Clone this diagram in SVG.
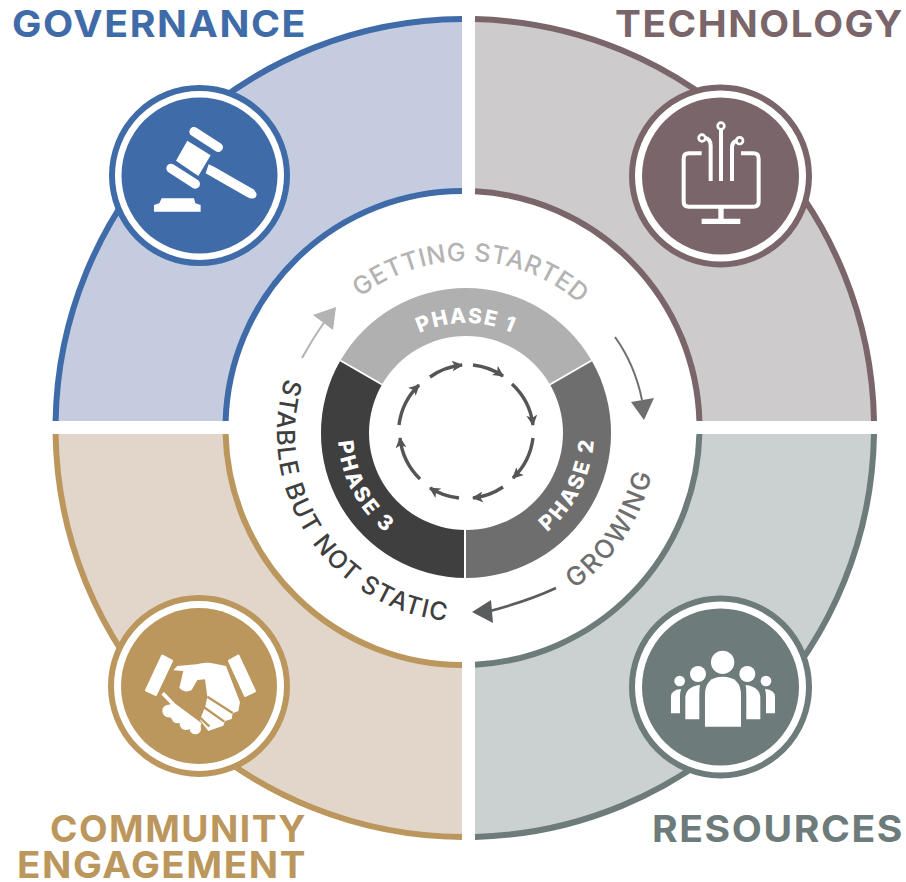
<svg xmlns="http://www.w3.org/2000/svg" width="906" height="882" viewBox="0 0 906 882">
<style>
.lbl{font-family:"Inter","DejaVu Sans",sans-serif;font-weight:700;font-size:37px;letter-spacing:1.5px}
.curv{font-family:"Inter","DejaVu Sans",sans-serif;font-size:25px;font-weight:500;text-anchor:middle}
.ph{font-family:"Inter","DejaVu Sans",sans-serif;font-size:21px;font-weight:800;fill:#fff;text-anchor:middle;letter-spacing:1.5px}
.ph2{letter-spacing:2.6px}
.arc{fill:none;stroke-width:6}
.wl{fill:none;stroke:#fff;stroke-width:2}
.small{fill:none;stroke:#555;stroke-width:3.4;marker-end:url(#mh)}
</style>
<defs>
<marker id="mh" markerUnits="userSpaceOnUse" markerWidth="11" markerHeight="11" viewBox="0 0 10 10" refX="9" refY="5" orient="auto"><path d="M0 0L10 5L0 10L2.5 5Z" fill="#555"/></marker>
<path id="pGS" d="M341.5 314.4A172 172 0 0 1 597.8 322.4"/>
<path id="pGR" d="M548 604A190 190 0 0 0 656 442"/>
<path id="pST" d="M293.3 356.1A189 189 0 0 0 470.9 621.9"/>
<path id="p1" d="M388.2 355.2A110 110 0 0 1 543.8 355.2"/>
<path id="p2" d="M527.1 545.5A128 128 0 0 0 592.6 414.1"/>
<path id="p3" d="M339 417.4A128 128 0 0 0 407.9 547"/>
</defs>
<g id="governance">
<path d="M462 19A409 409 0 0 0 55.6 421H225.6A237 237 0 0 1 462 191Z" fill="#c5ccdf"/>
<path class="arc" stroke="#3f6ca9" d="M462 19A409 409 0 0 0 55.6 421M225.6 421A237 237 0 0 1 462 191"/>
<circle cx="199.5" cy="175.5" r="87.5" fill="#fff" stroke="#3f6ca9" stroke-width="6"/>
<circle cx="199.5" cy="175.5" r="78" fill="#3f6ca9"/>
<g transform="translate(90 70) scale(.3333)" fill="#fff">
<path d="M312 185L385 232" stroke="#fff" stroke-width="28" stroke-linecap="round"/>
<path d="M243 295L316 342" stroke="#fff" stroke-width="28" stroke-linecap="round"/>
<path d="M292 212L362 256L325 318L258 272Z"/>
<path d="M356 283L372 290L490 358Q505 372 497 382Q488 390 470 380L347 310Z"/>
<path d="M215 385H312L316 400L332 405V425H192V405L208 400Z"/>
</g>
<text class="lbl" x="12" y="37" fill="#3f6ca9" textLength="295" lengthAdjust="spacingAndGlyphs">GOVERNANCE</text>
</g>
<g id="technology">
<path d="M475 19.1A409 409 0 0 1 874 421H699.4A237 237 0 0 0 475 191.3Z" fill="#cdcbcc"/>
<path class="arc" stroke="#7a666a" d="M475 19.1A409 409 0 0 1 874 421M699.4 421A237 237 0 0 0 475 191.3"/>
<circle cx="720.5" cy="176" r="88.5" fill="#fff" stroke="#7a666a" stroke-width="6"/>
<circle cx="720.5" cy="176" r="78.5" fill="#7a666a"/>
<g transform="translate(615 70) scale(.3333)" fill="none" stroke="#fff" stroke-width="12">
<path d="M260 250H222Q206 250 206 266V395Q206 410 222 410H415Q431 410 431 395V266Q431 250 415 250H378"/>
<path d="M318 410V450M260 454H376" stroke-width="16"/>
<path d="M318 333V180M287 333V228Q287 206 270 204M351 333V235Q351 216 364 213"/>
<circle cx="318" cy="168" r="10" stroke-width="8"/>
<circle cx="261" cy="204" r="10" stroke-width="8"/>
<circle cx="374" cy="212" r="10" stroke-width="8"/>
</g>
<text class="lbl" x="615" y="37" fill="#7a666a" textLength="289" lengthAdjust="spacingAndGlyphs">TECHNOLOGY</text>
</g>
<g id="resources">
<path d="M475 836.9A409 409 0 0 0 874 434H699.4A237 237 0 0 1 475 664.7Z" fill="#cbd0d0"/>
<path class="arc" stroke="#6e7b7b" d="M475 836.9A409 409 0 0 0 874 434M699.4 434A237 237 0 0 1 475 664.7"/>
<circle cx="720.5" cy="687" r="88.5" fill="#fff" stroke="#6e7b7b" stroke-width="6"/>
<circle cx="720.5" cy="687" r="78.5" fill="#6e7b7b"/>
<g transform="translate(615 585) scale(.3333)" fill="#fff">
<circle cx="323" cy="232" r="35"/>
<path d="M270 425V330Q270 275 323 275Q378 275 378 330V425Z"/>
<circle cx="249" cy="267" r="24"/><circle cx="397" cy="267" r="24"/>
<path d="M211 403V340Q211 305 255 300Q253 310 253 330V403Z"/>
<path d="M436 403V340Q436 305 392 300Q394 310 394 330V403Z"/>
<circle cx="194" cy="288" r="16"/><circle cx="453" cy="288" r="16"/>
<path d="M168 385V335Q168 315 198 312Q195 322 195 335V385Z"/>
<path d="M480 385V335Q480 315 450 312Q453 322 453 335V385Z"/>
</g>
<text class="lbl" x="652" y="842" fill="#6e7b7b" textLength="252" lengthAdjust="spacingAndGlyphs">RESOURCES</text>
</g>
<g id="community-engagement">
<path d="M462 837A409 409 0 0 1 55.6 434H225.6A237 237 0 0 0 462 665Z" fill="#e2d6cb"/>
<path class="arc" stroke="#bb975d" d="M462 837A409 409 0 0 1 55.6 434M225.6 434A237 237 0 0 0 462 665"/>
<circle cx="199" cy="686" r="88" fill="#fff" stroke="#bb975d" stroke-width="6"/>
<circle cx="199" cy="686" r="78" fill="#bb975d"/>
<g transform="translate(90 585) scale(.3333)" fill="#fff">
<path d="M217 213L245 228L197 329L169 316Z" stroke="#fff" stroke-width="8" stroke-linejoin="round"/>
<path d="M445 213L418 228L466 332L494 318Z" stroke="#fff" stroke-width="8" stroke-linejoin="round"/>
<path d="M250 256L262 243L320 238Q345 229 375 236L408 243L450 352L445 378L428 385L425 402L405 408L400 422L378 430L355 438L330 405L347 360L352 335L345 283L322 285L305 315Q285 326 268 308L280 258Z"/>
<path d="M352 335L428 384M341 366L403 410M328 396L358 424" stroke="#bb975d" stroke-width="7" fill="none"/>
<path d="M218 325L250 358" stroke="#fff" stroke-width="11"/>
<path d="M228 365L250 352L335 415L325 440L225 390Z"/>
<circle cx="236" cy="378" r="19"/><circle cx="263" cy="396" r="19"/><circle cx="288" cy="416" r="19"/><circle cx="316" cy="431" r="17"/>
</g>
<text class="lbl" fill="#bb975d"><tspan x="50" y="842" textLength="257" lengthAdjust="spacingAndGlyphs">COMMUNITY</tspan><tspan x="17" y="878" textLength="290" lengthAdjust="spacingAndGlyphs">ENGAGEMENT</tspan></text>
</g>
<g id="phase-1">
<path d="M340.4 360.5A145 145 0 0 1 591.6 360.5L550 384.5A97 97 0 0 0 382 384.5Z" fill="#b0b0b0"/>
<text class="ph"><textPath href="#p1" startOffset="50%">PHASE 1</textPath></text>
</g>
<g id="phase-2">
<path d="M591.6 360.5A145 145 0 0 1 466 578V530A97 97 0 0 0 550 384.5Z" fill="#6e6e6e"/>
<text class="ph ph2"><textPath href="#p2" startOffset="50%">PHASE 2</textPath></text>
</g>
<g id="phase-3">
<path d="M466 578A145 145 0 0 1 340.4 360.5L382 384.5A97 97 0 0 0 466 530Z" fill="#3f3f3f"/>
<text class="ph ph2"><textPath href="#p3" startOffset="50%">PHASE 3</textPath></text>
</g>
<path class="wl" d="M340.4 360.5L382 384.5M591.6 360.5L550 384.5M465 530V578"/>
<g id="getting-started"><text class="curv" fill="#b3b3b3" letter-spacing="0.5"><textPath href="#pGS" startOffset="50%">GETTING STARTED</textPath></text></g>
<g id="growing"><text class="curv" fill="#6e6e6e" style="font-size:26px" letter-spacing="2.2"><textPath href="#pGR" startOffset="50%">GROWING</textPath></text></g>
<g id="stable"><text class="curv" fill="#3f3f3f" letter-spacing="1.3"><textPath href="#pST" startOffset="50%">STABLE BUT NOT STATIC</textPath></text></g>
<g id="connectors">
<path d="M302 358Q313 338 325 321" fill="none" stroke="#b3b3b3" stroke-width="2"/>
<path d="M336 307L313 315L333 330Z" fill="#b3b3b3"/>
<path d="M615 337Q635 365 642 400" fill="none" stroke="#6e6e6e" stroke-width="2"/>
<path d="M644 420L631 402L654 398Z" fill="#6e6e6e"/>
<path d="M556 588Q528 601 490 611" fill="none" stroke="#5a5c5e" stroke-width="2.6"/>
<path d="M472 612L491 600L493 623Z" fill="#5a5c5e"/>
<path class="small" d="M399 425A67 67 0 0 1 419 385"/>
<path class="small" d="M430 377A67 67 0 0 1 462 365"/>
<path class="small" d="M473 365A67 67 0 0 1 503 376"/>
<path class="small" d="M512 384A67 67 0 0 1 533 425"/>
<path class="small" d="M533 438A67 67 0 0 1 513 478"/>
<path class="small" d="M503 487A67 67 0 0 1 473 498"/>
<path class="small" d="M459 498A67 67 0 0 1 430 488"/>
<path class="small" d="M420 479A67 67 0 0 1 400 438"/>
</g>
</svg>
